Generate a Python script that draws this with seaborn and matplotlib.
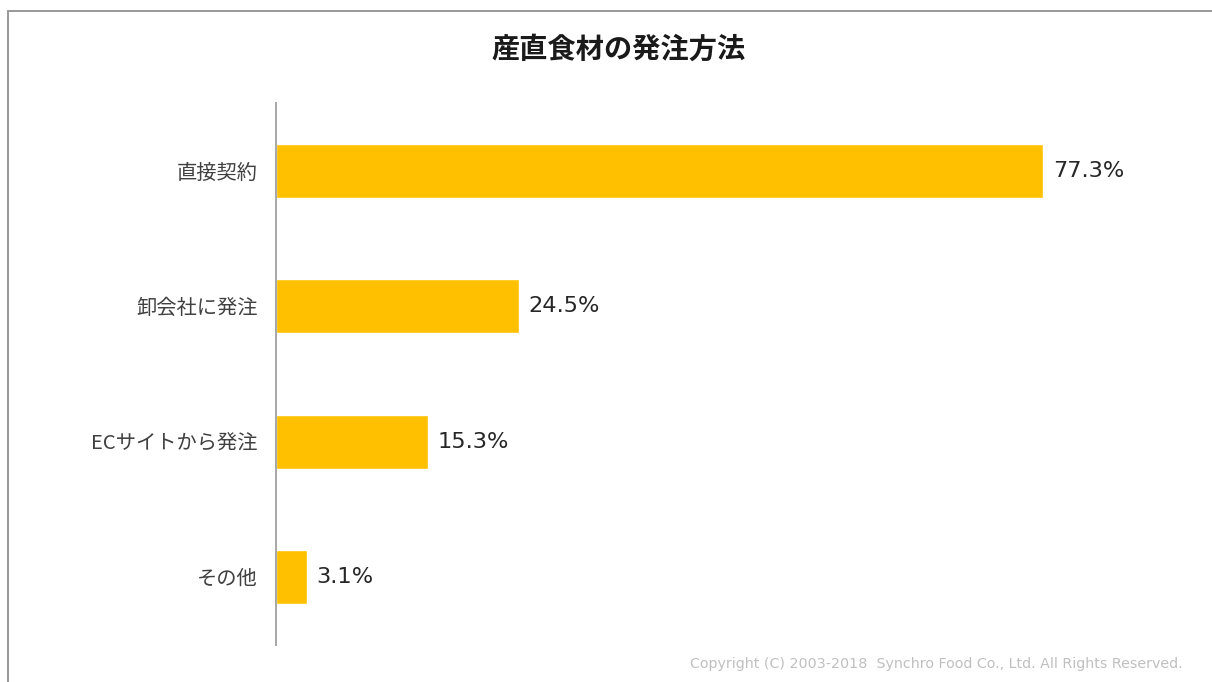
import matplotlib
matplotlib.use("Agg")
import matplotlib.pyplot as plt
from matplotlib.lines import Line2D
import seaborn as sns
import pandas as pd

# Ordering methods for direct-from-producer ingredients (% of respondents)
categories = ["直接契約", "卸会社に発注", "ECサイトから発注", "その他"]
shares = [77.3, 24.5, 15.3, 3.1]
value_labels = ["77.3%", "24.5%", "15.3%", "3.1%"]
title = "産直食材の発注方法"
copyright_text = "Copyright (C) 2003-2018  Synchro Food Co., Ltd. All Rights Reserved."

sns.set_theme(style="white")
plt.rcParams["font.family"] = ["Noto Sans CJK JP", "DejaVu Sans"]

W, H, DPI = 1212, 682, 100
fig = plt.figure(figsize=(W / DPI, H / DPI), dpi=DPI)
fig.patch.set_facecolor("white")

# axes placed in pixel space: left 276, right 1190, top 103, bottom 645
ax = fig.add_axes([276 / W, 1 - 645 / H, (1190 - 276) / W, (645 - 103) / H])

df = pd.DataFrame({"method": categories, "share": shares})
sns.barplot(data=df, x="share", y="method", orient="h", color="#FFC000",
            width=0.40, saturation=1, ax=ax)

ax.set_xlim(0, 92.1)
ax.set_ylim(3.5, -0.5)
ax.set_xlabel("")
ax.set_ylabel("")
ax.set_xticks([])
for s in ["top", "right", "bottom"]:
    ax.spines[s].set_visible(False)
ax.spines["left"].set_color("#A6A6A6")
ax.spines["left"].set_linewidth(1.4)
ax.tick_params(axis="y", length=0, pad=13, labelsize=14.6, labelcolor="#404040")

for patch, lab in zip(ax.patches, value_labels):
    x_end = patch.get_x() + patch.get_width()
    yc = patch.get_y() + patch.get_height() / 2
    ax.annotate(lab, (x_end, yc), xytext=(7, 0), textcoords="offset points",
                ha="left", va="center", fontsize=16.2, color="#262626",
                family=["DejaVu Sans"])

fig.text(619 / W, 1 - 50 / H, title, ha="center", va="center",
         fontsize=20.3, fontweight="bold", color="#1a1a1a")

fig.text(1183 / W, 1 - 664 / H, copyright_text, ha="right", va="center",
         fontsize=10.3, color="#C0C0C0", family=["DejaVu Sans"])

# outer frame (top and left edges)
frame_kw = dict(color="#999999", linewidth=1.4, transform=fig.transFigure)
fig.add_artist(Line2D([8 / W, 1], [1 - 11 / H, 1 - 11 / H], **frame_kw))
fig.add_artist(Line2D([8 / W, 8 / W], [0, 1 - 11 / H], **frame_kw))

fig.savefig("out.png", dpi=DPI)
